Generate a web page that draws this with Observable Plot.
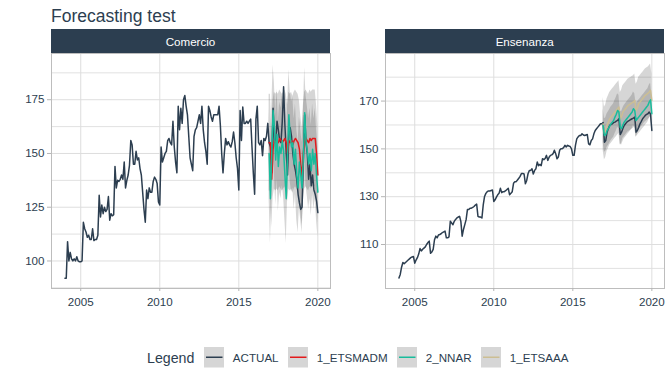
<!DOCTYPE html>
<html>
<head>
<meta charset="utf-8">
<script src="https://cdn.jsdelivr.net/npm/d3@7"></script>
<script src="https://cdn.jsdelivr.net/npm/@observablehq/plot@0.6"></script>
<style>
  html, body { margin: 0; padding: 0; background: #fff; }
  #root { position: relative; width: 672px; height: 384px; overflow: hidden;
          font-family: "Liberation Sans", Arial, sans-serif; color: #2C3E50; }
  .abs { position: absolute; }
  #title { left: 51px; top: 8px; font-size: 17.5px; line-height: 17.5px; color: #2C3E50; white-space: nowrap; }
  .strip { background: #2C3E50; color: #fff; font-size: 11.6px; display: flex; align-items: center; justify-content: center; }
  #legend { left: 147px; top: 347px; height: 21px; display: flex; align-items: center; white-space: nowrap; }
  #legend .ttl { font-size: 14.2px; margin-right: 9.3px; }
  #legend svg { display: block; margin-right: 8.7px; flex: none; }
  #legend .lab { font-size: 11.6px; margin-right: 9px; }
</style>
</head>
<body>
<div id="root">
  <div id="title" class="abs">Forecasting test</div>
  <div class="abs strip" style="left:50.7px;top:29px;width:279.6px;height:24.3px;">Comercio</div>
  <div class="abs strip" style="left:385px;top:29px;width:279.3px;height:24.3px;">Ensenanza</div>
  <div id="left" class="abs" style="left:0;top:53px;"></div>
  <div id="right" class="abs" style="left:336px;top:53px;"></div>
  <div id="legend" class="abs"></div>
</div>
<script>
// ---- data (monthly, starting 2004-01) ----
const startYear = 2004;
const forecastStart = 155; // month index of first forecast point

const seriesNames = ["ACTUAL", "1_ETSMADM", "2_NNAR", "1_ETSAAA"];
const seriesColors = ["#2C3E50", "#E31A1C", "#18BC9C", "#CCBE93"];

const xTicks = [2005, 2010, 2015, 2020];

const comercioActual = [
  92,92,109,100,104,101,100,101,100,102,100,99.6,
  99.6,100,118,115,113.5,111,112,110,110,115,109.5,110,
  110,112,130.6,120.5,126,122,125,123,124,130,119,122,
  121,121.5,144,134,137.5,137,138,140,138,146,134,137.5,
  140,144.5,156,154,145,145,151,147,148,143,140,132,
  124,118,133,129,134,132,132,137,139,138,136,127.5,
  126,153,146,148,150,151,156,157,155,154,165,153,
  146,141,172,161,171,164,175,177,172,168,158,148,
  145,142,158,161,162,165,168,164,172,161,155,151,
  145,172,170,167,165,168,168,168,168,172,163,150,
  141,150,157,154,155.5,154,153,155.5,160,155,148,143,
  133,170,156,171.6,164,164,165,164,165,166,153,141,
  131,166,172,155,154,156,149,157,156,158,164,155,
  153,141,171,155,155,165,161,156,155,165,181,163,
  150,140,160,162,158,150,145,142,138,131,127,124,
  125,147,168,155,150,138,145,135,140,133,131,128,
  122.5
];
const comercioETSMADM = [
  155,155,138,152,156,155,156,155,157,156,155,156,157,
  155,150,156,155,156,154,156,157,156,155,152,145,
  139,150,156,157,156,155,157,156,157,157,157,150,140
];
const comercioNNAR = [
  150,129,150,170,162,147,159,144,153,150,156,151,140,
  129,150,168,158,153,155,145,152,140,134,146,140,
  134,148,169,156,151,145,150,142,152,145,150,140,132
];
const comercioHalfWidth = { "1_ETSMADM": 22.5, "2_NNAR": 21 };
const comercioYTicks = [100, 125, 150, 175];
const comercioYMinor = [87.5, 112.5, 137.5, 162.5, 187.5];

const ensenanzaActual = [
  96,97.5,100.5,102.5,102,102.5,103,103.5,104,104.5,104.8,105,
  102.2,103.5,104.5,106,108.3,107.3,108,108.5,109,110,110.8,111.4,
  106.3,106.9,108,112,113.5,112.8,114,114.2,114.5,115,115.3,115.6,
  112.8,112.8,113.2,119.7,119,118.3,119.7,120.5,121.1,121.5,121.8,119.7,
  113.5,116.3,118.3,120.4,124.6,124.6,125.2,125.2,125.5,125.9,126.5,126.9,
  121.8,121.5,121.5,121.1,126.6,130.1,131.4,132.1,132.4,132.4,132.6,132.8,
  128,128.7,129.8,130.8,131.4,133.5,131.7,132.1,132.1,132.5,133,133.5,
  130.8,131.4,132.1,135.6,136.3,136.3,137,137.7,138.5,139.7,139.7,139.5,
  135.4,136.8,139.6,141,141,141.7,139.5,141,141.7,144.5,143,143.5,
  143,145.9,145.5,146,147.3,145.2,146.5,147.3,147.5,148,149.4,148,
  145.9,146.6,149.4,150.1,150.1,150.5,151.5,150.8,151.5,151.2,151,150,
  147.3,147.3,151.5,154.2,155,155.6,155.6,156.3,155.8,155.6,155.8,156,
  152.1,151.7,153.5,154.2,156.3,157.7,158.4,159.1,159.8,160.5,160.5,161,
  152.8,153.5,157,158.5,159.8,160.2,160.5,161,161.2,161.6,161.9,162.6,
  156,157,158.5,159.8,160.5,161.2,161.6,161.9,162.3,162.6,162.9,163.3,
  157,157.7,159,160.5,161.5,162.6,163.3,164,164.4,164.7,165.4,164.5,
  157.7
];
const ensenanzaETSAAA = [
  160.5,156.4,157.5,160,161.2,162.6,163.3,164,164.7,165.4,166.1,166.8,167.5,
  162.6,163.5,165.4,166.1,166.8,167.5,168.2,168.5,168.9,169.3,169.6,170.3,
  166,167,169,169.6,170.3,171,171.7,172.4,172.8,173.2,173.8,174.5,170.3
];
const ensenanzaNNAR = [
  159.8,155.6,156,157.7,158.5,159.5,160.5,161.2,161.9,163.3,164.5,166.1,165.4,
  159,158.5,160,161.2,161.9,162.6,163.3,164,164.7,165.4,166.8,166.1,
  161.9,162.6,163.3,164,164.7,165.4,166.1,166.8,167.5,168.2,169.6,170.5,164.7
];
const ensenanzaHalfWidth = { "1_ETSAAA": 11, "2_NNAR": 7 };
const ensenanzaYTicks = [110, 130, 150, 170];
const ensenanzaYMinor = [100, 120, 140, 160, 180];

// ---- drawing ----
const colorOf = name => seriesColors[seriesNames.indexOf(name)];
const textColor = "#2C3E50";
const gridColor = "#dedede";
const tickColor = "#b5b5b5";
const lineWidth = 1.5;

function panel({ actual, models, yDomain, yTicks, yMinor, marginLeft, marginRight }) {
  const actualData = actual.map((v, i) => ({ x: startYear + i / 12, y: v }));
  const marks = [
    Plot.gridY(yMinor, { stroke: gridColor, strokeOpacity: 1, strokeWidth: 0.9 }),
    Plot.gridY(yTicks, { stroke: gridColor, strokeOpacity: 1, strokeWidth: 1 }),
    Plot.gridX(xTicks, { stroke: gridColor, strokeOpacity: 1, strokeWidth: 1 })
  ];
  const fcData = models.map(m => m.values.map((v, i) => ({
    x: startYear + (forecastStart + i) / 12, y: v, lo: v - m.hw, hi: v + m.hw
  })));
  fcData.forEach(d => marks.push(Plot.areaY(d, { x: "x", y1: "lo", y2: "hi", fill: "#333333", fillOpacity: 0.2 })));
  marks.push(Plot.line(actualData, { x: "x", y: "y", stroke: colorOf("ACTUAL"), strokeWidth: lineWidth }));
  fcData.forEach((d, k) => marks.push(Plot.line(d, { x: "x", y: "y", stroke: colorOf(models[k].name), strokeWidth: lineWidth })));
  marks.push(Plot.frame({ stroke: "#bdbdbd", strokeWidth: 1 }));
  marks.push(Plot.axisY(yTicks, { tickSize: 4, tickPadding: 3, stroke: tickColor, color: textColor, label: null }));
  marks.push(Plot.axisX(xTicks, { tickSize: 3, tickPadding: 6, stroke: tickColor, color: textColor, label: null, tickFormat: d => String(d) }));
  return Plot.plot({
    width: 336, height: 260,
    marginTop: 0, marginBottom: 25, marginLeft, marginRight,
    x: { domain: [2003.15, 2020.8] },
    y: { domain: yDomain },
    style: { fontSize: "11.6px", fontFamily: "'Liberation Sans', Arial, sans-serif", color: textColor, background: "transparent", overflow: "visible" },
    marks
  });
}

document.getElementById("left").append(panel({
  actual: comercioActual,
  models: [
    { name: "1_ETSMADM", values: comercioETSMADM, hw: comercioHalfWidth["1_ETSMADM"] },
    { name: "2_NNAR", values: comercioNNAR, hw: comercioHalfWidth["2_NNAR"] }
  ],
  yDomain: [87.2, 196.5], yTicks: comercioYTicks, yMinor: comercioYMinor,
  marginLeft: 51, marginRight: 6
}));

document.getElementById("right").append(panel({
  actual: ensenanzaActual,
  models: [
    { name: "1_ETSAAA", values: ensenanzaETSAAA, hw: ensenanzaHalfWidth["1_ETSAAA"] },
    { name: "2_NNAR", values: ensenanzaNNAR, hw: ensenanzaHalfWidth["2_NNAR"] }
  ],
  yDomain: [91.6, 189.9], yTicks: ensenanzaYTicks, yMinor: ensenanzaYMinor,
  marginLeft: 49, marginRight: 8
}));

// legend
const svgNS = "http://www.w3.org/2000/svg";
const legend = document.getElementById("legend");
const ttl = document.createElement("span");
ttl.className = "ttl"; ttl.textContent = "Legend";
legend.append(ttl);
seriesNames.forEach((name, k) => {
  const svg = document.createElementNS(svgNS, "svg");
  svg.setAttribute("width", "20.5");
  svg.setAttribute("height", "20.5");
  const bg = document.createElementNS(svgNS, "rect");
  bg.setAttribute("width", "20.5"); bg.setAttribute("height", "20.5"); bg.setAttribute("fill", "#d6d6d6");
  const ln = document.createElementNS(svgNS, "line");
  ln.setAttribute("x1", "2"); ln.setAttribute("x2", "18.5");
  ln.setAttribute("y1", "10.25"); ln.setAttribute("y2", "10.25");
  ln.setAttribute("stroke", seriesColors[k]); ln.setAttribute("stroke-width", "1.5");
  svg.append(bg, ln);
  const lab = document.createElement("span");
  lab.className = "lab"; lab.textContent = name;
  legend.append(svg, lab);
});
</script>
</body>
</html>
